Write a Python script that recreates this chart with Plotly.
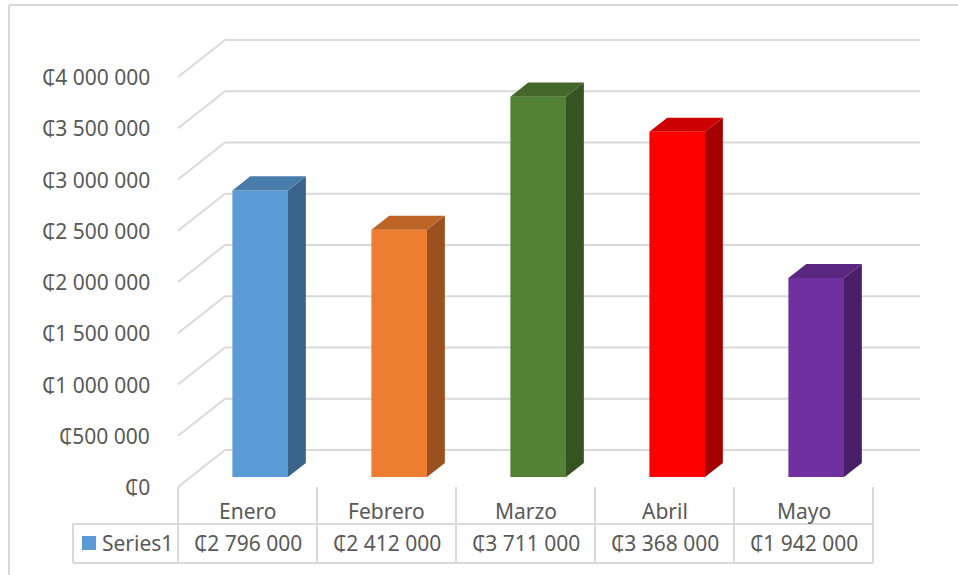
import plotly.graph_objects as go

# ---- data ----
categories = ["Enero", "Febrero", "Marzo", "Abril", "Mayo"]
values = [2796000, 2412000, 3711000, 3368000, 1942000]
series_name = "Series1"
bar_colors = ["#5B9BD5", "#ED7D31", "#548235", "#FF0000", "#7030A0"]
tick_values = [0, 500000, 1000000, 1500000, 2000000, 2500000, 3000000, 3500000, 4000000]


def fmt(v):
    s = f"{v:,}".replace(",", " ")
    return "\u20b5" + s


def shade(hexc, f):
    h = hexc.lstrip("#")
    r, g, b = (int(h[i:i + 2], 16) for i in (0, 2, 4))
    return "#%02x%02x%02x" % (int(r * f), int(g * f), int(b * f))


# ---- layout geometry (pixels) ----
W, H = 958, 575
PX_CAT = 139.0          # px per category
X0PX = 178.0            # px of left edge of category area
Y0PX = 487.0            # px of value 0 on front plane
PXV = 102.5 / 1e6       # px per value unit
DX = 47.0 / PX_CAT      # depth shift in category units
DY = 37.0 / PXV         # depth shift in value units
T0, T1 = 0.27, 0.65     # bar front/back depth fractions
BAR_W = 0.4
FS = 21

xr = [-0.5 - X0PX / PX_CAT, -0.5 + (W - X0PX) / PX_CAT]
yr = [-(H - Y0PX) / PXV, Y0PX / PXV]


def yp(px):
    return 1 - px / H


def xp(px):
    return px / W


GRID = "#D9D9D9"
TXT = "#595959"
FONT = "Noto Sans, DejaVu Sans, sans-serif"

fig = go.Figure()
shapes = []
annotations = []

# gridlines (side wall + back wall)
n = len(categories)
for v in tick_values:
    shapes.append(dict(type="line", xref="x", yref="y", x0=-0.5, y0=v,
                       x1=-0.5 + DX, y1=v + DY, line=dict(color=GRID, width=2), layer="below"))
    shapes.append(dict(type="line", xref="x", yref="y", x0=-0.5 + DX, y0=v + DY,
                       x1=n - 0.5 + DX, y1=v + DY, line=dict(color=GRID, width=2), layer="below"))
    annotations.append(dict(x=-0.5, y=v, xref="x", yref="y", text=fmt(v), showarrow=False,
                            xanchor="right", yanchor="middle", xshift=-26,
                            font=dict(family=FONT, size=FS, color=TXT)))

# bars
for i, (c, v, col) in enumerate(zip(categories, values, bar_colors)):
    xl = i - BAR_W / 2
    xrr = i + BAR_W / 2
    fx, fy = T0 * DX, T0 * DY
    bx, by = T1 * DX, T1 * DY
    # front
    fig.add_trace(go.Scatter(
        x=[xl + fx, xrr + fx, xrr + fx, xl + fx, xl + fx],
        y=[fy, fy, v + fy, v + fy, fy],
        fill="toself", fillcolor=col, mode="lines", line=dict(width=0),
        hoverinfo="skip", showlegend=False))
    # side
    fig.add_trace(go.Scatter(
        x=[xrr + fx, xrr + bx, xrr + bx, xrr + fx, xrr + fx],
        y=[fy, by, v + by, v + fy, fy],
        fill="toself", fillcolor=shade(col, 0.65), mode="lines", line=dict(width=0),
        hoverinfo="skip", showlegend=False))
    # top
    fig.add_trace(go.Scatter(
        x=[xl + fx, xrr + fx, xrr + bx, xl + bx, xl + fx],
        y=[v + fy, v + fy, v + by, v + by, v + fy],
        fill="toself", fillcolor=shade(col, 0.8), mode="lines", line=dict(width=0),
        hoverinfo="skip", showlegend=False))

# data table
ROW1_TOP, ROW2_TOP, ROW2_BOT = 487, 524, 563
LEG_LEFT = 73
for k in range(n + 1):
    shapes.append(dict(type="line", xref="x", yref="paper", x0=k - 0.5, x1=k - 0.5,
                       y0=yp(ROW1_TOP), y1=yp(ROW2_BOT), line=dict(color=GRID, width=2)))
shapes.append(dict(type="line", xref="paper", yref="paper", x0=xp(LEG_LEFT), x1=xp(LEG_LEFT),
                   y0=yp(ROW2_TOP), y1=yp(ROW2_BOT), line=dict(color=GRID, width=2)))
for ypx in (ROW2_TOP, ROW2_BOT):
    shapes.append(dict(type="line", xref="paper", yref="paper", x0=xp(LEG_LEFT),
                       x1=xp(X0PX + n * PX_CAT), y0=yp(ypx), y1=yp(ypx),
                       line=dict(color=GRID, width=2)))

for i, (c, v) in enumerate(zip(categories, values)):
    annotations.append(dict(x=i, y=yp(511), xref="x", yref="paper",
                            text=c, showarrow=False, xanchor="center", yanchor="middle",
                            font=dict(family=FONT, size=FS, color=TXT)))
    annotations.append(dict(x=i, y=yp(543), xref="x", yref="paper",
                            text=fmt(v), showarrow=False, xanchor="center", yanchor="middle",
                            font=dict(family=FONT, size=FS, color=TXT)))

# legend key
shapes.append(dict(type="rect", xref="paper", yref="paper", x0=xp(82), x1=xp(96),
                   y0=yp(550), y1=yp(536), fillcolor=bar_colors[0], line=dict(width=0)))
annotations.append(dict(x=xp(100), y=yp(543), xref="paper", yref="paper",
                        text=series_name, showarrow=False, xanchor="left", yanchor="middle",
                        font=dict(family=FONT, size=FS, color=TXT)))

# chart border
shapes.append(dict(type="line", xref="paper", yref="paper", x0=xp(9), x1=1.01,
                   y0=yp(5), y1=yp(5), line=dict(color=GRID, width=2)))
shapes.append(dict(type="line", xref="paper", yref="paper", x0=xp(9), x1=xp(9),
                   y0=yp(5), y1=-0.01, line=dict(color=GRID, width=2)))

fig.update_layout(
    width=W, height=H,
    margin=dict(l=0, r=0, t=0, b=0),
    paper_bgcolor="white", plot_bgcolor="white",
    xaxis=dict(range=xr, visible=False, fixedrange=True),
    yaxis=dict(range=yr, visible=False, fixedrange=True),
    shapes=shapes, annotations=annotations,
    showlegend=False,
)

fig.write_html("out.html")
